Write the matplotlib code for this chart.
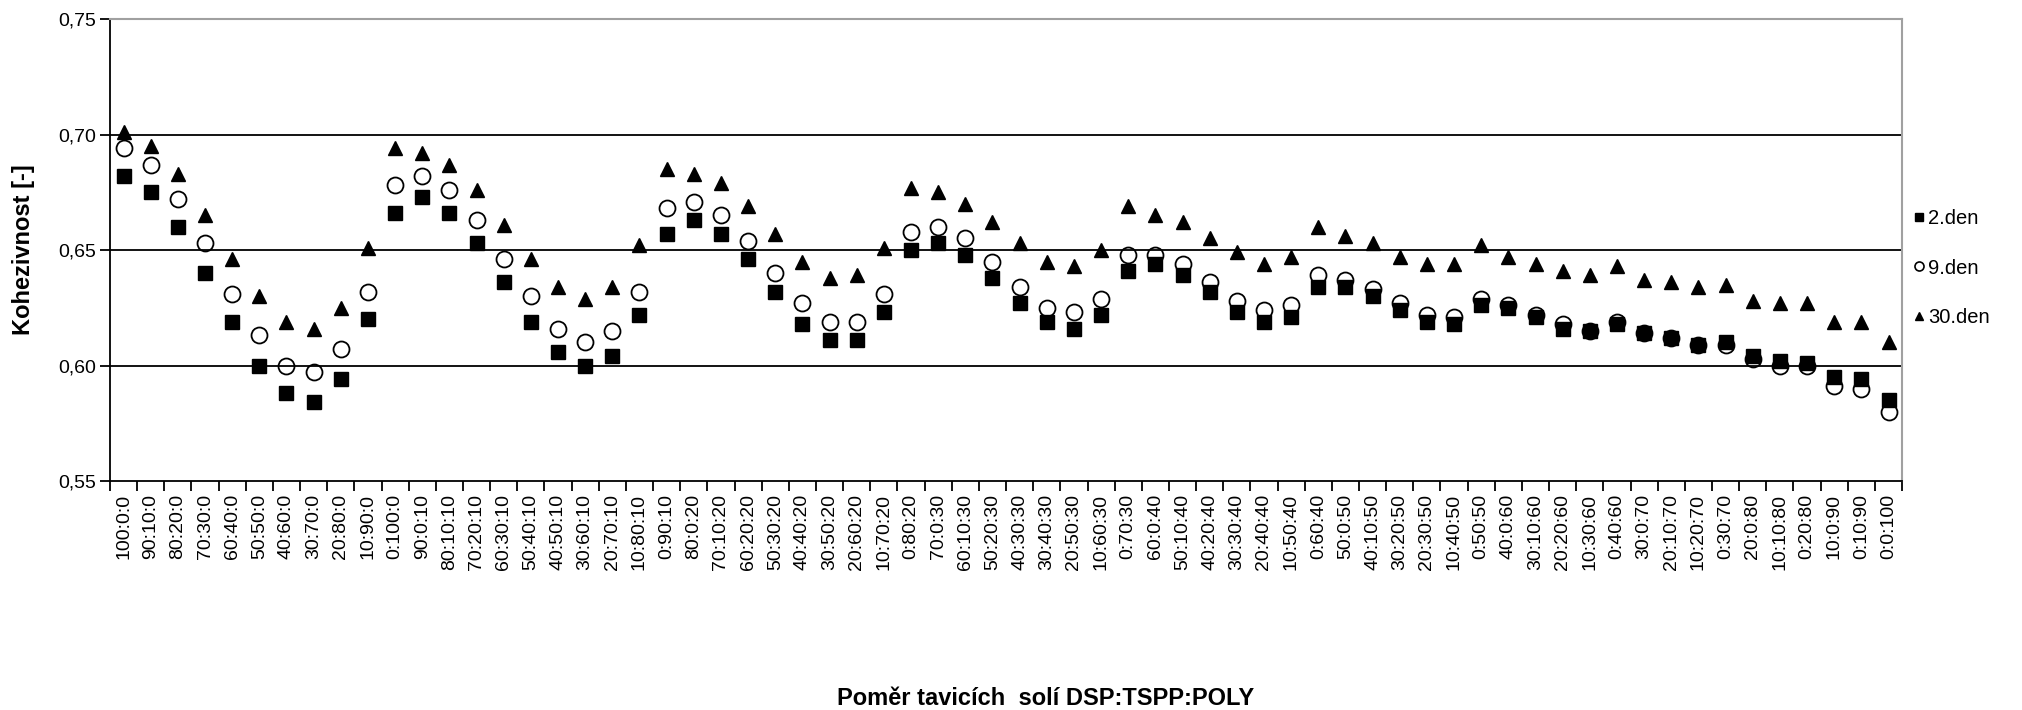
import numpy as np
import matplotlib
matplotlib.use('Agg')
import matplotlib.pyplot as plt
from matplotlib.lines import Line2D

plt.rcParams['font.family'] = ['Liberation Sans', 'DejaVu Sans']

# pomery DSP:TSPP:POLY
pomery = ['100:0:0', '90:10:0', '80:20:0', '70:30:0', '60:40:0', '50:50:0', '40:60:0',
          '30:70:0', '20:80:0', '10:90:0', '0:100:0',
          '90:0:10', '80:10:10', '70:20:10', '60:30:10', '50:40:10', '40:50:10', '30:60:10',
          '20:70:10', '10:80:10', '0:90:10',
          '80:0:20', '70:10:20', '60:20:20', '50:30:20', '40:40:20', '30:50:20', '20:60:20',
          '10:70:20', '0:80:20',
          '70:0:30', '60:10:30', '50:20:30', '40:30:30', '30:40:30', '20:50:30', '10:60:30',
          '0:70:30',
          '60:0:40', '50:10:40', '40:20:40', '30:30:40', '20:40:40', '10:50:40', '0:60:40',
          '50:0:50', '40:10:50', '30:20:50', '20:30:50', '10:40:50', '0:50:50',
          '40:0:60', '30:10:60', '20:20:60', '10:30:60', '0:40:60',
          '30:0:70', '20:10:70', '10:20:70', '0:30:70',
          '20:0:80', '10:10:80', '0:20:80',
          '10:0:90', '0:10:90',
          '0:0:100']

den2 = [0.682, 0.675, 0.660, 0.640, 0.619, 0.600, 0.588, 0.584, 0.594, 0.620, 0.666,
        0.673, 0.666, 0.653, 0.636, 0.619, 0.606, 0.600, 0.604, 0.622, 0.657,
        0.663, 0.657, 0.646, 0.632, 0.618, 0.611, 0.611, 0.623, 0.650,
        0.653, 0.648, 0.638, 0.627, 0.619, 0.616, 0.622, 0.641,
        0.644, 0.639, 0.632, 0.623, 0.619, 0.621, 0.634,
        0.634, 0.630, 0.624, 0.619, 0.618, 0.626,
        0.625, 0.621, 0.616, 0.615, 0.618,
        0.614, 0.612, 0.609, 0.610,
        0.604, 0.602, 0.601,
        0.595, 0.594,
        0.585]

den9 = [0.694, 0.687, 0.672, 0.653, 0.631, 0.613, 0.600, 0.597, 0.607, 0.632, 0.678,
        0.682, 0.676, 0.663, 0.646, 0.630, 0.616, 0.610, 0.615, 0.632, 0.668,
        0.671, 0.665, 0.654, 0.640, 0.627, 0.619, 0.619, 0.631, 0.658,
        0.660, 0.655, 0.645, 0.634, 0.625, 0.623, 0.629, 0.648,
        0.648, 0.644, 0.636, 0.628, 0.624, 0.626, 0.639,
        0.637, 0.633, 0.627, 0.622, 0.621, 0.629,
        0.626, 0.622, 0.618, 0.615, 0.619,
        0.614, 0.612, 0.609, 0.609,
        0.603, 0.600, 0.600,
        0.591, 0.590,
        0.580]

den30 = [0.701, 0.695, 0.683, 0.665, 0.646, 0.630, 0.619, 0.616, 0.625, 0.651, 0.694,
         0.692, 0.687, 0.676, 0.661, 0.646, 0.634, 0.629, 0.634, 0.652, 0.685,
         0.683, 0.679, 0.669, 0.657, 0.645, 0.638, 0.639, 0.651, 0.677,
         0.675, 0.670, 0.662, 0.653, 0.645, 0.643, 0.650, 0.669,
         0.665, 0.662, 0.655, 0.649, 0.644, 0.647, 0.660,
         0.656, 0.653, 0.647, 0.644, 0.644, 0.652,
         0.647, 0.644, 0.641, 0.639, 0.643,
         0.637, 0.636, 0.634, 0.635,
         0.628, 0.627, 0.627,
         0.619, 0.619,
         0.610]

y_ticks = [0.55, 0.60, 0.65, 0.70, 0.75]

fig = plt.figure(figsize=(20.22, 7.10), dpi=100)
ax = fig.add_axes([0.0544, 0.3225, 0.8863, 0.6507])

x = np.arange(len(pomery))

# mrizka
for g in y_ticks[1:-1]:
    ax.axhline(g, color='black', lw=1.3, zorder=1)

ax.plot(x, den9, 'o', ms=11.5, mfc='none', mec='black', mew=1.3, zorder=3)
ax.plot(x, den2, 's', ms=10, color='black', zorder=4)
ax.plot(x, den30, '^', ms=10.5, color='black', zorder=5)

ax.set_xlim(-0.5, len(pomery) - 0.5)
ax.set_ylim(0.55, 0.75)

ax.set_yticks(y_ticks)
ax.set_yticklabels([('%.2f' % v).replace('.', ',') for v in y_ticks])

ax.set_xticks(x)
ax.set_xticklabels(pomery, rotation=90)
ax.set_xticks(np.arange(len(pomery) + 1) - 0.5, minor=True)
ax.tick_params(axis='x', which='major', length=0, pad=9, labelsize=14)
ax.tick_params(axis='x', which='minor', length=7, width=1.3, direction='out')
ax.tick_params(axis='y', length=7, width=1.3, direction='out', labelsize=14, pad=3)

for s in ['left', 'bottom']:
    ax.spines[s].set_color('black')
    ax.spines[s].set_linewidth(1.3)
for s in ['top', 'right']:
    ax.spines[s].set_color('#a0a0a0')
    ax.spines[s].set_linewidth(1.5)

fig.text(0.0114, 0.648, 'Kohezivnost [-]', rotation=90, ha='center', va='center',
         fontsize=17, fontweight='bold')
fig.text(0.517, 0.0155, 'Poměr tavicích  solí DSP:TSPP:POLY', ha='center', va='center',
         fontsize=17, fontweight='bold')

# legenda vpravo mimo graf
handles = [Line2D([], [], ls='none', marker='s', ms=6, color='black'),
           Line2D([], [], ls='none', marker='o', ms=6.5, mfc='none', mec='black', mew=1.2),
           Line2D([], [], ls='none', marker='^', ms=6, color='black')]
fig.legend(handles, ['2.den', '9.den', '30.den'], loc='center left',
           bbox_to_anchor=(0.941, 0.6225), frameon=False, fontsize=14.5,
           handlelength=0.6, handletextpad=0.15, labelspacing=1.5, borderpad=0)

fig.savefig('out.png', dpi=100)
